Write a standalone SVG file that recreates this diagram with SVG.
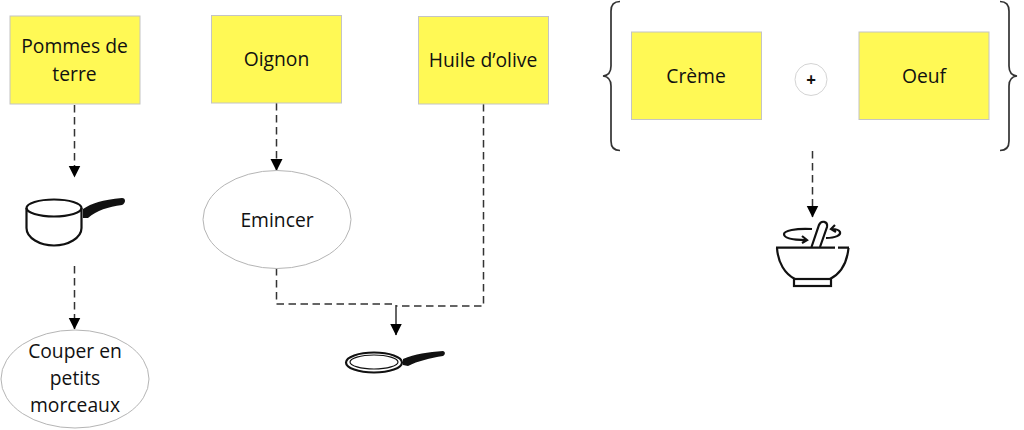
<svg xmlns="http://www.w3.org/2000/svg" width="1024" height="430" viewBox="0 0 1024 430">
<style>
text{font-family:"Open Sans","Noto Sans","Liberation Sans",sans-serif;font-size:19.300px;fill:#111;text-anchor:middle}
.box{fill:#fff955;stroke:#c4c4c4;stroke-width:1}
.oval{fill:#fff;stroke:#b5b5b5;stroke-width:1}
.dash{fill:none;stroke:#333;stroke-width:1.500;stroke-dasharray:7.500 4.500}
.ln{fill:none;stroke:#111;stroke-width:2.200}
.brace{fill:none;stroke:#333;stroke-width:1.700}
</style>
<defs>
<marker id="arr" markerUnits="userSpaceOnUse" markerWidth="12" markerHeight="13" refX="11.500" refY="6.500" orient="auto"><path d="M0 0.500L12 6.500L0 12.500Z" fill="#000"/></marker>
</defs>
<rect width="1024" height="430" fill="#fff"/>
<g id="connectors">
<path class="dash" d="M74.500 105V177" marker-end="url(#arr)"/>
<path class="dash" d="M74.500 266V329" marker-end="url(#arr)"/>
<path class="dash" d="M276.500 103V170.500" marker-end="url(#arr)"/>
<path class="dash" d="M276.500 268V304H396"/>
<path class="dash" d="M483.500 104V306H396"/>
<path d="M396 305V335" fill="none" stroke="#333" stroke-width="1.500" marker-end="url(#arr)"/>
<path class="dash" d="M812.500 151V217" marker-end="url(#arr)"/>
</g>
<g id="pommes"><rect class="box" x="10" y="16" width="130" height="88"/><text x="74.500" y="53">Pommes de</text><text x="74.500" y="80.500">terre</text></g>
<g id="oignon"><rect class="box" x="211.500" y="15.500" width="130" height="87.500"/><text x="276.500" y="66">Oignon</text></g>
<g id="huile"><rect class="box" x="418.500" y="16.500" width="130" height="87.500"/><text x="483" y="67">Huile d’olive</text></g>
<g id="creme"><rect class="box" x="631.500" y="32" width="130" height="87.500"/><text x="696" y="83">Crème</text></g>
<g id="oeuf"><rect class="box" x="859" y="32" width="130" height="87.500"/><text x="924" y="83">Oeuf</text></g>
<g id="plus"><circle cx="811" cy="79.500" r="16" fill="#fff" stroke="#d4d4d4"/><text x="811" y="85.500" style="font-size:17px;font-weight:700">+</text></g>
<g id="brace-left"><path class="brace" d="M620 1.500C614 1.500 611 5 611 11V66C611 72 608 75.500 603 76C608 76.500 611 80 611 86V141C611 147 614 150.500 620 150.500"/></g>
<g id="brace-right"><path class="brace" d="M1000 1.500C1006 1.500 1009 5 1009 11V66C1009 72 1012 75.500 1017 76C1012 76.500 1009 80 1009 86V141C1009 147 1006 150.500 1000 150.500"/></g>
<g id="casserole">
<ellipse class="ln" cx="54" cy="208" rx="27.500" ry="8.500"/>
<path class="ln" d="M26.500 208V228C26.500 238 40 245.500 54 245.500S81.500 238 81.500 228V208"/>
<path d="M83 209C92 203 102 200 122 198C126 198 126 203 122 205C108 207 97 210 88 218L83 218Z" fill="#111"/>
</g>
<g id="emincer"><ellipse class="oval" cx="277" cy="219.500" rx="74" ry="49"/><text x="277" y="227">Emincer</text></g>
<g id="couper"><ellipse class="oval" cx="75" cy="379" rx="74" ry="49"/><text x="75" y="358">Couper en</text><text x="75" y="385">petits</text><text x="75" y="412">morceaux</text></g>
<g id="poele">
<ellipse cx="374" cy="362.500" rx="28" ry="10" fill="none" stroke="#111" stroke-width="2.200"/>
<ellipse cx="374" cy="362" rx="24" ry="7" fill="none" stroke="#111" stroke-width="1.200"/>
<path d="M403 359C415 354 428 352 443 351C446 352 445 355 443 356C430 358 418 361 408 366L403 365Z" fill="#111"/>
</g>
<g id="mortier">
<path class="ln" d="M776 247.700H835M838 247.700H849"/>
<path class="ln" d="M777 248C778 263 785 274 795 279M848.500 248C847 263 840 274 830 279"/>
<rect class="ln" x="794" y="279" width="37" height="7"/>
<path class="ln" d="M811.500 247L819 225C821 220 828 221 827 227L820 247"/>
<path class="ln" d="M812 229C795 228 784 231 784 234C784 238 792 240 806 240"/>
<path class="ln" d="M802 236L807 240L802 243"/>
<path class="ln" d="M826 238C836 238 841 235 840 232C839 230 836 229 832 229M835 225L831 229L836 232"/>
</g>
</svg>
